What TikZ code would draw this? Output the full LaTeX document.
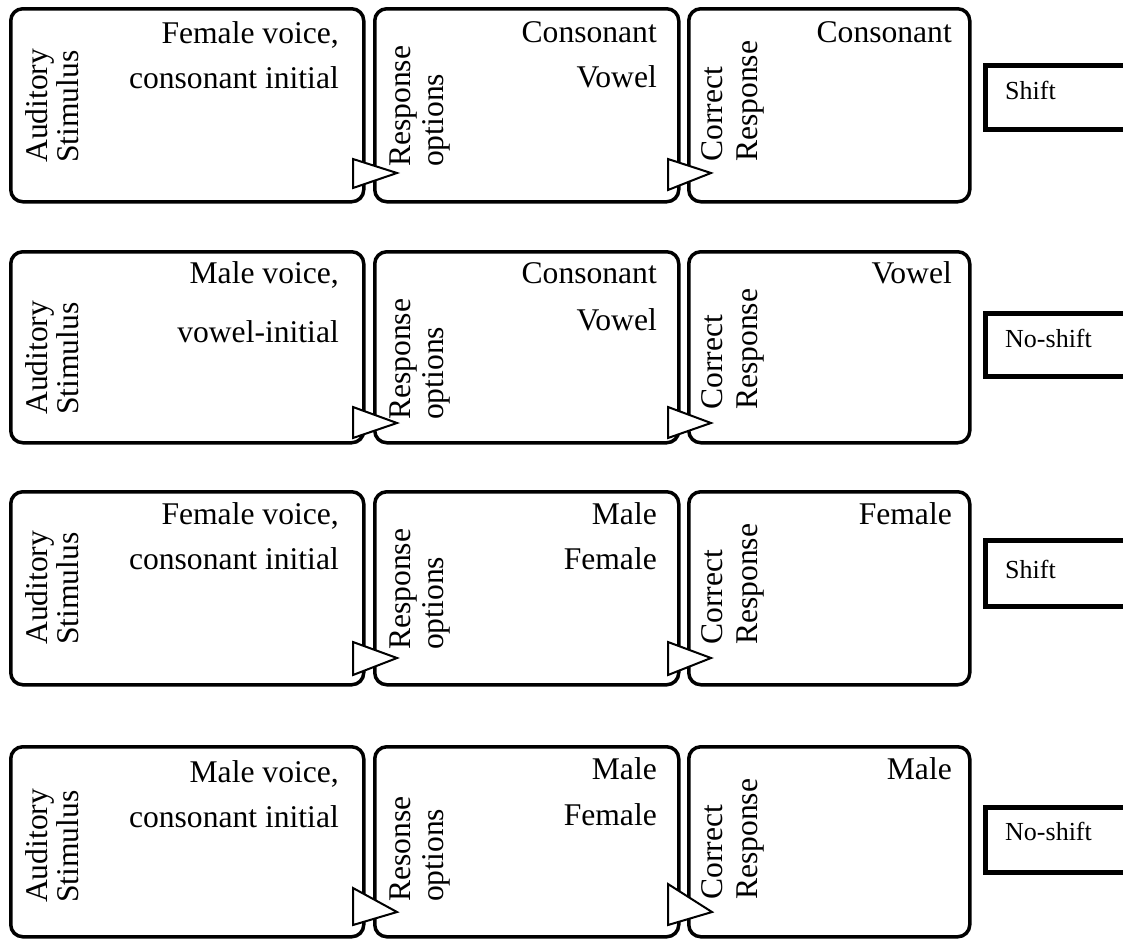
\documentclass[tikz,border=0pt]{standalone}
\usepackage{fontspec}
\setmainfont{Liberation Serif}
\begin{document}
\begin{tikzpicture}[x=1pt,y=-1pt,
  panel/.style={draw, line width=3.5pt, rounded corners=12pt, inner sep=0pt, anchor=north west},
  tagbox/.style={draw, line width=4.5pt, inner sep=0pt, anchor=north west},
  rtext/.style={anchor=base east, inner sep=0pt, font=\fontsize{31.6}{36}\selectfont},
  vtext/.style={anchor=base west, rotate=90, inner sep=0pt, font=\fontsize{31.6}{36}\selectfont},
  ttext/.style={anchor=base west, inner sep=0pt, font=\fontsize{26}{30}\selectfont},
  tri/.style={draw, fill=white, line width=2pt, line join=miter}]
\useasboundingbox (0,0) rectangle (1123,938);
\clip (0,0) rectangle (1123,938);
\fill[white] (0,0) rectangle (1123,938);

% ---------- Row 1 ----------
\node[panel, minimum width=353pt, minimum height=193pt] (p11) at (9,7) {};
\node[panel, minimum width=304pt, minimum height=193pt] (p12) at (373,7) {};
\node[panel, minimum width=281pt, minimum height=193pt] (p13) at (687,7) {};
\node[rtext] (r11a) at (339,43) {Female voice,};
\node[rtext] (r11b) at (339,88) {consonant initial};
\node[rtext] (r12a) at (657,42) {Consonant};
\node[rtext] (r12b) at (657,87) {Vowel};
\node[rtext] (r13a) at (952,42) {Consonant};
\node[vtext] (v11a) at (47,163) {Auditory};
\node[vtext] (v11b) at (78,163) {Stimulus};
\node[vtext] (v12a) at (410,167) {Response};
\node[vtext] (v12b) at (443,167) {options};
\node[vtext] (v13a) at (722,162) {Correct};
\node[vtext] (v13b) at (757,162) {Response};
\draw[tri] (353,159) -- (397,173) -- (353,188) -- cycle;
\draw[tri] (668,159) -- (711,173) -- (668,190) -- cycle;
\node[tagbox, minimum width=170pt, minimum height=64pt] (t1) at (983,63) {};
\node[ttext] (tt1) at (1005,99) {Shift};

% ---------- Row 2 ----------
\node[panel, minimum width=353pt, minimum height=191pt] (p21) at (9,250) {};
\node[panel, minimum width=304pt, minimum height=191pt] (p22) at (373,250) {};
\node[panel, minimum width=281pt, minimum height=191pt] (p23) at (687,250) {};
\node[rtext] (r21a) at (339,283) {Male voice,};
\node[rtext] (r21b) at (339,342) {vowel-initial};
\node[rtext] (r22a) at (657,283) {Consonant};
\node[rtext] (r22b) at (657,330) {Vowel};
\node[rtext] (r23a) at (952,283) {Vowel};
\node[vtext] (v21a) at (47,415) {Auditory};
\node[vtext] (v21b) at (78,415) {Stimulus};
\node[vtext] (v22a) at (410,420) {Response};
\node[vtext] (v22b) at (443,420) {options};
\node[vtext] (v23a) at (722,410) {Correct};
\node[vtext] (v23b) at (757,410) {Response};
\draw[tri] (353,407) -- (397,423) -- (353,438) -- cycle;
\draw[tri] (668,407) -- (711,423) -- (668,438) -- cycle;
\node[tagbox, minimum width=170pt, minimum height=63pt] (t2) at (983,311) {};
\node[ttext] (tt2) at (1005,347) {No-shift};

% ---------- Row 3 ----------
\node[panel, minimum width=353pt, minimum height=193pt] (p31) at (9,490) {};
\node[panel, minimum width=304pt, minimum height=193pt] (p32) at (373,490) {};
\node[panel, minimum width=281pt, minimum height=193pt] (p33) at (687,490) {};
\node[rtext] (r31a) at (339,524) {Female voice,};
\node[rtext] (r31b) at (339,569) {consonant initial};
\node[rtext] (r32a) at (657,524) {Male};
\node[rtext] (r32b) at (657,569) {Female};
\node[rtext] (r33a) at (952,524) {Female};
\node[vtext] (v31a) at (47,645) {Auditory};
\node[vtext] (v31b) at (78,645) {Stimulus};
\node[vtext] (v32a) at (410,650) {Response};
\node[vtext] (v32b) at (443,650) {options};
\node[vtext] (v33a) at (722,645) {Correct};
\node[vtext] (v33b) at (757,645) {Response};
\draw[tri] (353,642) -- (397,658) -- (353,675) -- cycle;
\draw[tri] (668,642) -- (711,658) -- (668,675) -- cycle;
\node[tagbox, minimum width=170pt, minimum height=66pt] (t3) at (983,538) {};
\node[ttext] (tt3) at (1005,578) {Shift};

% ---------- Row 4 ----------
\node[panel, minimum width=353pt, minimum height=190pt] (p41) at (9,745) {};
\node[panel, minimum width=304pt, minimum height=190pt] (p42) at (373,745) {};
\node[panel, minimum width=281pt, minimum height=190pt] (p43) at (687,745) {};
\node[rtext] (r41a) at (339,782) {Male voice,};
\node[rtext] (r41b) at (339,827) {consonant initial};
\node[rtext] (r42a) at (657,779) {Male};
\node[rtext] (r42b) at (657,825) {Female};
\node[rtext] (r43a) at (952,779) {Male};
\node[vtext] (v41a) at (47,903) {Auditory};
\node[vtext] (v41b) at (78,903) {Stimulus};
\node[vtext] (v42a) at (410,902) {Resonse};
\node[vtext] (v42b) at (443,902) {options};
\node[vtext] (v43a) at (722,900) {Correct};
\node[vtext] (v43b) at (757,900) {Response};
\draw[tri] (353,888) -- (397,912) -- (353,925) -- cycle;
\draw[tri] (668,884) -- (712,912) -- (668,925) -- cycle;
\node[tagbox, minimum width=170pt, minimum height=65pt] (t4) at (983,805) {};
\node[ttext] (tt4) at (1005,840) {No-shift};
\end{tikzpicture}
\end{document}
